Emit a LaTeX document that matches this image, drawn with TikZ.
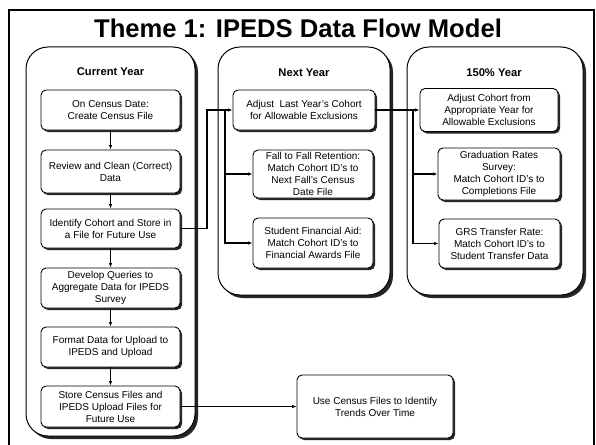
\documentclass[tikz,border=0pt]{standalone}
\usepackage{fontspec}
\setmainfont{Liberation Sans}
\usetikzlibrary{arrows.meta,shadows}
\begin{document}
\begin{tikzpicture}[x=1pt,y=-1pt,
  panel/.style={draw=black,line width=1pt,fill=white,rounded corners=22pt,inner sep=0pt,
    drop shadow={shadow xshift=3pt,shadow yshift=-3pt,opacity=1,fill=black!85}},
  stepbox/.style={draw=black,line width=0.9pt,fill=white,rounded corners=5pt,inner sep=1pt,align=center,
    font=\fontsize{10}{12}\selectfont,
    drop shadow={shadow xshift=2pt,shadow yshift=-2pt,opacity=1,fill=black!85}},
  plabel/.style={font=\fontsize{11.2}{13}\selectfont\bfseries},
  conn/.style={draw=black,line width=1.1pt,-{Latex[length=4.5pt,width=3.5pt]}},
  line/.style={draw=black,line width=1.1pt}]
\useasboundingbox (0,0) rectangle (596,444);
\fill[white] (0,0) rectangle (596,444);
\begin{scope}
\clip (0,0) rectangle (596,444);
\node[draw=black,line width=1.8pt,minimum width=585pt,minimum height=450pt,inner sep=0pt,anchor=north west] (frame) at (8,9) {};
\end{scope}
\node[font=\fontsize{25.6}{28}\selectfont\bfseries] (title) at (298,28) {Theme 1: IPEDS Data Flow Model};

% panels
\node[panel,minimum width=169pt,minimum height=389pt] (pcur) at (110.5,241.5) {};
\node[panel,minimum width=172pt,minimum height=248pt] (pnext) at (304,171) {};
\node[panel,minimum width=176pt,minimum height=248pt] (p150) at (495,171) {};
\node[plabel] (lcur) at (110.5,72) {Current Year};
\node[plabel] (lnext) at (304,73) {Next Year};
\node[plabel] (l150) at (494,73) {150\% Year};

% current year
\node[stepbox,minimum width=139pt,minimum height=40pt] (b1) at (110.5,110) {On Census Date:\\Create Census File};
\node[stepbox,minimum width=139pt,minimum height=43pt] (b2) at (110.5,171.5) {Review and Clean (Correct)\\Data};
\node[stepbox,minimum width=139pt,minimum height=39pt] (b3) at (110.5,228.5) {Identify Cohort and Store in\\a File for Future Use};
\node[stepbox,minimum width=139pt,minimum height=40pt] (b4) at (110.5,288) {Develop Queries to\\Aggregate Data for IPEDS\\Survey};
\node[stepbox,minimum width=139pt,minimum height=40pt] (b5) at (110.5,347) {Format Data for Upload to\\IPEDS and Upload};
\node[stepbox,minimum width=139pt,minimum height=41pt] (b6) at (110.5,406.5) {Store Census Files and\\IPEDS Upload Files for\\Future Use};

% next year
\node[stepbox,minimum width=142pt,minimum height=40pt] (n1) at (304,110) {Adjust\ \ Last Year’s Cohort\\for Allowable Exclusions};
\node[stepbox,minimum width=120pt,minimum height=48pt] (n2) at (313,174) {Fall to Fall Retention:\\Match Cohort ID’s to\\Next Fall’s Census\\Date File};
\node[stepbox,minimum width=120pt,minimum height=50pt] (n3) at (313,243) {Student Financial Aid:\\Match Cohort ID’s to\\Financial Awards File};

% 150% year
\node[stepbox,minimum width=138pt,minimum height=43pt] (q1) at (489,110) {Adjust Cohort from\\Appropriate Year for\\Allowable Exclusions};
\node[stepbox,minimum width=122pt,minimum height=52pt] (q2) at (499,174) {Graduation Rates\\Survey:\\Match Cohort ID’s to\\Completions File};
\node[stepbox,minimum width=121pt,minimum height=49pt] (q3) at (499.5,243.5) {GRS Transfer Rate:\\Match Cohort ID’s to\\Student Transfer Data};

% trends
\node[stepbox,minimum width=156pt,minimum height=63pt] (u) at (375,406.5) {Use Census Files to Identify\\Trends Over Time};

% connectors
\draw[conn] (b1) -- (b2);
\draw[conn] (b2) -- (b3);
\draw[conn] (b3) -- (b4);
\draw[conn] (b4) -- (b5);
\draw[conn] (b5) -- (b6);
\coordinate (j1) at (207,110);
\coordinate (j2) at (225,110);
\coordinate (j3) at (413,110);
\draw[conn] (b3.east) -| (j1) -- (n1.west);
\draw[conn] (j2) |- (n2.west);
\draw[conn] (j2) |- (n3.west);
\draw[conn] (n1.east) -- (n1.east -| q1.west);
\draw[conn] (j3) |- (q2.west);
\draw[conn] (j3) |- (q3.west);
\draw[conn] (b6.east) -- (u.west);
\end{tikzpicture}
\end{document}
